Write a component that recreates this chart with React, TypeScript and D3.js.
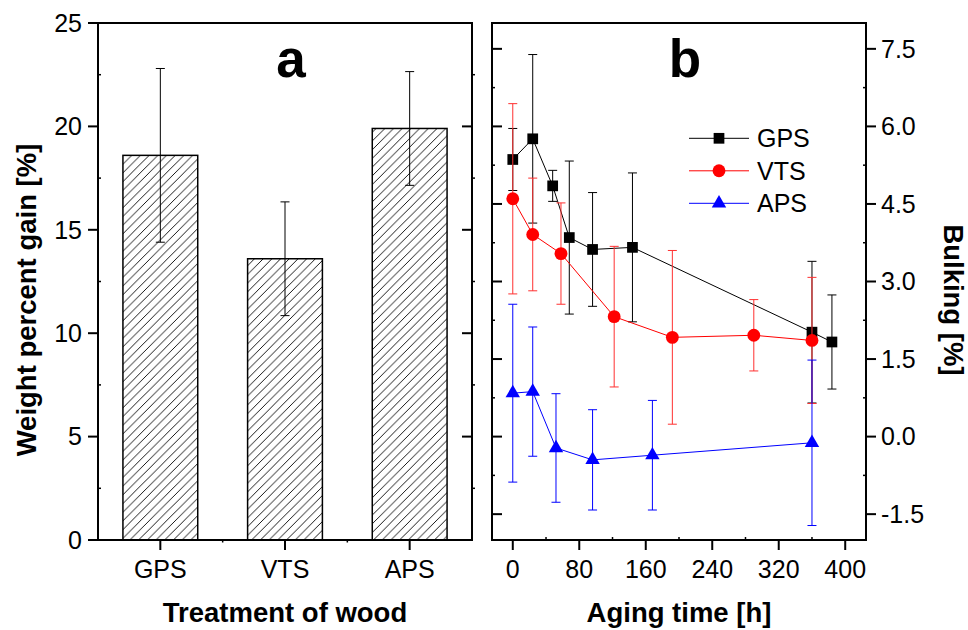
import React from "react";
import * as d3 from "d3";

// panel a: weight percent gain per treatment
const categories = ["GPS", "VTS", "APS"];
const gainValues = [18.6, 13.6, 19.9];
const gainErrors = [4.2, 2.75, 2.75];
const gainTicks = [0, 5, 10, 15, 20, 25];

// panel b: bulking vs aging time
const gpsTime = [0, 24, 48, 68, 96, 144, 360, 384];
const gpsBulk = [5.36, 5.76, 4.85, 3.85, 3.62, 3.66, 2.02, 1.83];
const gpsErr = [0.6, 1.63, 0.3, 1.48, 1.1, 1.44, 1.37, 0.91];

const vtsTime = [0, 24, 58, 122, 192, 290, 360];
const vtsBulk = [4.6, 3.91, 3.54, 2.32, 1.92, 1.96, 1.86];
const vtsErr = [1.84, 1.09, 0.98, 1.36, 1.68, 0.69, 1.22];

const apsTime = [0, 24, 52, 96, 168, 360];
const apsBulk = [0.84, 0.87, -0.22, -0.45, -0.36, -0.12];
const apsErr = [1.72, 1.25, 1.05, 0.97, 1.06, 1.6];

const timeTicks = [0, 80, 160, 240, 320, 400];
const bulkTicks = [-1.5, 0, 1.5, 3, 4.5, 6, 7.5];

const FONT = "Arial, 'Liberation Sans', sans-serif";

const top = 23;
const bottom = 540;
const aLeft = 98;
const aRight = 472;
const bLeft = 492;
const bRight = 866;

export default function App() {
  const yA = d3.scaleLinear().domain([0, 25]).range([bottom, top]);
  const xA = d3
    .scaleBand<string>()
    .domain(categories)
    .range([aLeft, aRight])
    .paddingInner(0.4)
    .paddingOuter(0.2);

  const xB = d3.scaleLinear().domain([-25, 425]).range([bLeft, bRight]);
  const yB = d3.scaleLinear().domain([-2, 8]).range([bottom, top]);

  const line = d3
    .line<[number, number]>()
    .x((d) => xB(d[0]))
    .y((d) => yB(d[1]));

  const series = [
    { name: "GPS", time: gpsTime, vals: gpsBulk, err: gpsErr, color: "#000", errColor: "#000", shape: d3.symbolSquare, size: 115 },
    { name: "VTS", time: vtsTime, vals: vtsBulk, err: vtsErr, color: "#ff0000", errColor: "#ff3030", shape: d3.symbolCircle, size: 130 },
    { name: "APS", time: apsTime, vals: apsBulk, err: apsErr, color: "#0000ff", errColor: "#0000ff", shape: d3.symbolTriangle, size: 90 },
  ];

  const aMinor = d3.range(2.5, 25, 5);
  const bMinorY = [-0.75, 0.75, 2.25, 3.75, 5.25, 6.75];
  const bMinorX = [40, 120, 200, 280, 360];
  const bandEdges = [1, 2].map((i) => aLeft + xA.step() * i);

  return (
    <svg
      width={968}
      height={630}
      style={{ position: "absolute", left: 0, top: 0, background: "#fff", fontFamily: FONT }}
    >
      <defs>
        <pattern id="hatch" patternUnits="userSpaceOnUse" width={8.7} height={8.7}>
          <path
            d="M0,8.7 L8.7,0 M-2,2 L2,-2 M6.7,10.7 L10.7,6.7"
            stroke="#000"
            strokeWidth={0.9}
          />
        </pattern>
      </defs>

      {/* ---------- panel a ---------- */}
      {categories.map((c, i) => (
        <rect
          key={c}
          x={xA(c)}
          y={yA(gainValues[i])}
          width={xA.bandwidth()}
          height={bottom - yA(gainValues[i])}
          fill="url(#hatch)"
          stroke="#000"
          strokeWidth={1.5}
        />
      ))}
      {categories.map((c, i) => {
        const cx = (xA(c) as number) + xA.bandwidth() / 2;
        const y1 = yA(gainValues[i] + gainErrors[i]);
        const y2 = yA(gainValues[i] - gainErrors[i]);
        return (
          <g key={c} stroke="#000" strokeWidth={1}>
            <line x1={cx} x2={cx} y1={y1} y2={y2} />
            <line x1={cx - 4.5} x2={cx + 4.5} y1={y1} y2={y1} />
            <line x1={cx - 4.5} x2={cx + 4.5} y1={y2} y2={y2} />
          </g>
        );
      })}
      <rect x={aLeft} y={top} width={aRight - aLeft} height={bottom - top} fill="none" stroke="#000" strokeWidth={2} />
      {gainTicks.map((t) => (
        <g key={t}>
          <line x1={aLeft - 10} x2={aLeft} y1={yA(t)} y2={yA(t)} stroke="#000" strokeWidth={2} />
          {t > 0 && t < 25 && (
            <line x1={aRight - 10} x2={aRight} y1={yA(t)} y2={yA(t)} stroke="#000" strokeWidth={2} />
          )}
          <text x={aLeft - 16} y={yA(t)} dy="0.35em" textAnchor="end" fontSize={25}>
            {t}
          </text>
        </g>
      ))}
      {aMinor.map((t) => (
        <g key={t} stroke="#000" strokeWidth={1.5}>
          <line x1={aLeft} x2={aLeft + 3} y1={yA(t)} y2={yA(t)} />
          <line x1={aRight} x2={aRight + 3} y1={yA(t)} y2={yA(t)} />
        </g>
      ))}
      {categories.map((c) => {
        const cx = (xA(c) as number) + xA.bandwidth() / 2;
        return (
          <g key={c}>
            <line x1={cx} x2={cx} y1={bottom} y2={bottom + 10} stroke="#000" strokeWidth={2} />
            <text x={cx} y={578} textAnchor="middle" fontSize={25}>
              {c}
            </text>
          </g>
        );
      })}
      {bandEdges.map((x) => (
        <line key={x} x1={x} x2={x} y1={bottom} y2={bottom + 2.5} stroke="#000" strokeWidth={1.5} />
      ))}
      <text x={291} y={77} textAnchor="middle" fontSize={53} fontWeight="bold">
        a
      </text>
      <text x={(aLeft + aRight) / 2} y={622} textAnchor="middle" fontSize={27.5} fontWeight="bold">
        Treatment of wood
      </text>
      <text
        transform="translate(36,300) rotate(-90)"
        textAnchor="middle"
        fontSize={27.5}
        fontWeight="bold"
      >
        Weight percent gain [%]
      </text>

      {/* ---------- panel b ---------- */}
      {series.map((s) => {
        const pts = s.time.map((t, i) => [t, s.vals[i]] as [number, number]);
        const sym = d3.symbol().type(s.shape).size(s.size)();
        return (
          <g key={s.name}>
            <path d={line(pts) || ""} fill="none" stroke={s.color} strokeWidth={1} />
            {pts.map((p, i) => {
              const cx = xB(p[0]);
              const y1 = yB(p[1] + s.err[i]);
              const y2 = yB(p[1] - s.err[i]);
              return (
                <g key={i} stroke={s.errColor} strokeWidth={1}>
                  <line x1={cx} x2={cx} y1={y1} y2={y2} />
                  <line x1={cx - 4.5} x2={cx + 4.5} y1={y1} y2={y1} />
                  <line x1={cx - 4.5} x2={cx + 4.5} y1={y2} y2={y2} />
                </g>
              );
            })}
            {pts.map((p, i) => (
              <path key={i} d={sym || ""} transform={`translate(${xB(p[0])},${yB(p[1])})`} fill={s.color} />
            ))}
          </g>
        );
      })}
      <rect x={bLeft} y={top} width={bRight - bLeft} height={bottom - top} fill="none" stroke="#000" strokeWidth={2} />
      {bulkTicks.map((t) => (
        <g key={t}>
          <line x1={bLeft} x2={bLeft + 10} y1={yB(t)} y2={yB(t)} stroke="#000" strokeWidth={2} />
          <line x1={bRight} x2={bRight + 10} y1={yB(t)} y2={yB(t)} stroke="#000" strokeWidth={2} />
          <text x={bRight + 15} y={yB(t)} dy="0.35em" textAnchor="start" fontSize={25}>
            {t.toFixed(1)}
          </text>
        </g>
      ))}
      {bMinorY.map((t) => (
        <g key={t} stroke="#000" strokeWidth={1.5}>
          <line x1={bLeft} x2={bLeft + 3} y1={yB(t)} y2={yB(t)} />
          <line x1={bRight - 3} x2={bRight} y1={yB(t)} y2={yB(t)} />
        </g>
      ))}
      {timeTicks.map((t) => (
        <g key={t}>
          <line x1={xB(t)} x2={xB(t)} y1={bottom} y2={bottom + 10} stroke="#000" strokeWidth={2} />
          <text x={xB(t)} y={578} textAnchor="middle" fontSize={25}>
            {t}
          </text>
        </g>
      ))}
      {bMinorX.map((t) => (
        <line key={t} x1={xB(t)} x2={xB(t)} y1={bottom - 3} y2={bottom} stroke="#000" strokeWidth={1.5} />
      ))}
      <text x={685} y={77} textAnchor="middle" fontSize={53} fontWeight="bold">
        b
      </text>
      <text x={(bLeft + bRight) / 2} y={622} textAnchor="middle" fontSize={27.5} fontWeight="bold">
        Aging time [h]
      </text>
      <text
        transform="translate(944,300) rotate(90)"
        textAnchor="middle"
        fontSize={27.5}
        fontWeight="bold"
      >
        Bulking [%]
      </text>

      {/* legend */}
      {series.map((s, i) => {
        const ly = 138.3 + i * 32.5;
        const sym = d3.symbol().type(s.shape).size(s.size)();
        return (
          <g key={s.name}>
            <line x1={689} x2={749} y1={ly} y2={ly} stroke={s.color} strokeWidth={1} />
            <path d={sym || ""} transform={`translate(719,${ly})`} fill={s.color} />
            <text x={757} y={ly} dy="0.35em" fontSize={25}>
              {s.name}
            </text>
          </g>
        );
      })}
    </svg>
  );
}
